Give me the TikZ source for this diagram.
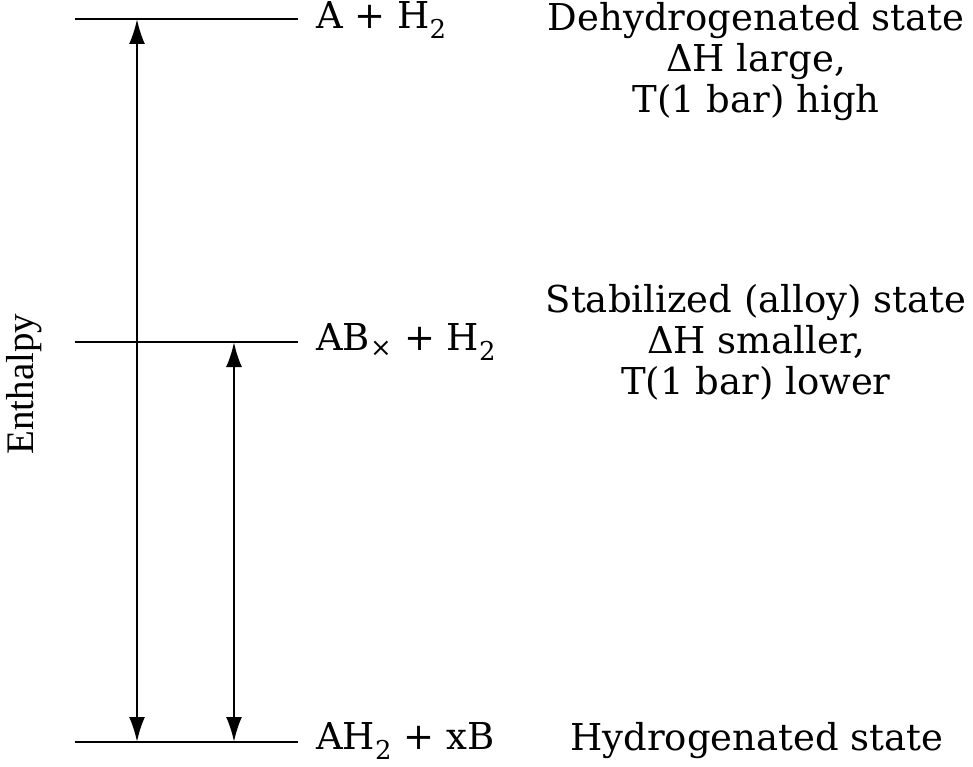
\documentclass[tikz,border=0pt]{standalone}
\usepackage{fontspec}
\setmainfont{DejaVu Serif}
\newfontfamily\enthfont{Liberation Serif}
\usetikzlibrary{arrows.meta}
\tikzset{
  level/.style={line width=2.4pt},
  trans/.style={line width=2.4pt,{Latex[length=25pt,width=16pt]}-{Latex[length=25pt,width=16pt]}},
  spec/.style={anchor=west,inner sep=0pt,font=\fontsize{37}{42}\selectfont},
  desc/.style={align=center,inner sep=0pt,font=\fontsize{37}{41}\selectfont},
}
\begin{document}
\begin{tikzpicture}[x=1pt,y=-1pt]
\useasboundingbox (0,0) rectangle (973,767);
\coordinate (t1) at (75,19);
\coordinate (t2) at (298,19);
\coordinate (m1) at (75,342);
\coordinate (m2) at (298,342);
\coordinate (b1) at (75,742);
\coordinate (b2) at (298,742);
\draw[level] (t1) -- (t2);
\draw[level] (m1) -- (m2);
\draw[level] (b1) -- (b2);
\coordinate (a1t) at (137,19);
\coordinate (a1b) at (137,742);
\coordinate (a2t) at (234,342);
\coordinate (a2b) at (234,742);
\draw[trans] (a1b) -- (a1t);
\draw[trans] (a2b) -- (a2t);
\node[spec] (s1) at (316,20) {A + H\textsubscript{2}};
\node[spec] (s2) at (316,342) {AB\textsubscript{×} + H\textsubscript{2}};
\node[spec] (s3) at (316,741) {AH\textsubscript{2} + xB};
\node[desc] (d1) at (756,62) {Dehydrogenated state\\ΔH large,\\T(1 bar) high};
\node[desc] (d2) at (756,342) {Stabilized (alloy) state\\ΔH smaller,\\T(1 bar) lower};
\node[desc] (d3) at (757,741) {Hydrogenated state};
\node[rotate=90,inner sep=0pt,font=\enthfont\fontsize{39}{44}\selectfont] (en) at (24,384) {Enthalpy};
\end{tikzpicture}
\end{document}
